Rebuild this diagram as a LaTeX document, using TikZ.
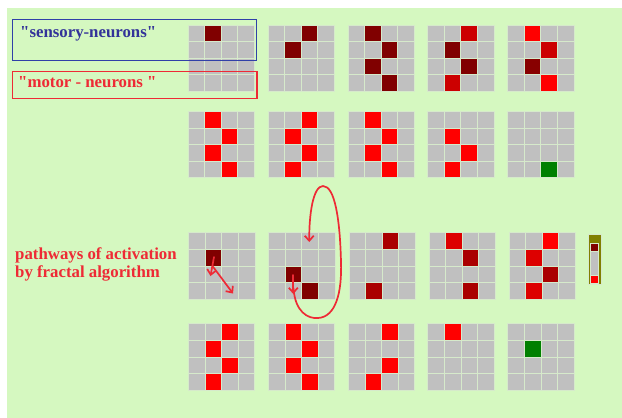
\documentclass[tikz,border=0pt]{standalone}
\usepackage{fontspec}
\setmainfont{Liberation Serif}
\usetikzlibrary{arrows.meta}
\definecolor{bg}{HTML}{D5F8C0}
\definecolor{cellgray}{HTML}{C0C0C0}
\definecolor{sep}{HTML}{D6EACB}
\definecolor{dk}{HTML}{800000}
\definecolor{dk2}{HTML}{880000}
\definecolor{md}{HTML}{AA0000}
\definecolor{mr}{HTML}{CC0000}
\definecolor{lr}{HTML}{DD0000}
\definecolor{rd}{HTML}{FF0000}
\definecolor{gn}{HTML}{008000}
\definecolor{olivebar}{HTML}{808000}
\definecolor{lblue}{HTML}{333399}
\definecolor{boxblue}{HTML}{3040A8}
\definecolor{lred}{HTML}{EE2A35}
\tikzset{
  cellbox/.style={draw=sep,line width=0.8pt},
  lbl/.style={anchor=base west,inner sep=0pt,font=\bfseries\fontsize{16.8}{18}\selectfont},
  annot/.style={draw=lred,line width=1.7pt,line cap=round,-{Straight Barb[length=5pt,width=9pt]}},
}
\newcommand\mygrid[3]{%
  \foreach \r in {0,...,3}{\foreach \c in {0,...,3}{%
    \filldraw[cellbox,fill=cellgray] ({#1+\c*16.6},{#2+\r*16.6}) rectangle ++(16.6,16.6);}}%
  \foreach \r/\c/\col in {#3}{%
    \filldraw[cellbox,fill=\col] ({#1+\c*16.6},{#2+\r*16.6}) rectangle ++(16.6,16.6);}%
}
\begin{document}
\begin{tikzpicture}[x=1pt,y=-1pt]
\useasboundingbox (0,0) rectangle (622,418);
\fill[bg] (6.5,8) rectangle (622,418);
% row 1
\mygrid{188}{25}{0/1/dk}
\mygrid{268}{25}{0/2/dk,1/1/dk}
\mygrid{348}{25}{0/1/dk,1/2/dk,2/1/dk,3/2/dk}
\mygrid{427.5}{25}{0/2/mr,1/1/dk,2/2/dk,3/1/mr}
\mygrid{507.5}{25}{0/1/rd,1/2/mr,2/1/dk2,3/2/rd}
% row 2
\mygrid{188}{111.3}{0/1/rd,1/2/rd,2/1/rd,3/2/rd}
\mygrid{268}{111.3}{0/2/rd,1/1/rd,2/2/rd,3/1/rd}
\mygrid{348}{111.3}{0/1/rd,1/2/rd,2/1/rd,3/2/rd}
\mygrid{427.5}{111.3}{1/1/rd,2/2/rd,3/1/rd}
\mygrid{507.5}{111.3}{3/2/gn}
% row 3
\mygrid{188.5}{232.7}{1/1/dk}
\mygrid{268.5}{232.7}{2/1/dk,3/2/dk}
\mygrid{349}{232.7}{0/2/md,3/1/md}
\mygrid{429}{232.7}{0/1/lr,1/2/md,3/2/md}
\mygrid{509}{232.7}{0/2/rd,1/1/lr,2/2/md,3/1/lr}
% row 4
\mygrid{188.3}{323.7}{0/2/rd,1/1/rd,2/2/rd,3/1/rd}
\mygrid{268.3}{323.7}{0/1/rd,1/2/rd,2/1/rd,3/2/rd}
\mygrid{348.3}{323.7}{0/2/rd,2/2/rd,3/1/rd}
\mygrid{427.7}{323.7}{0/1/rd}
\mygrid{507.7}{323.7}{1/1/gn}
% indicator bar
\filldraw[draw=sep,line width=0.8pt,fill=olivebar] (588.7,234) rectangle (601,284.7);
\filldraw[draw=sep,line width=0.6pt,fill=dk] (590.2,243.3) rectangle (598.5,251);
\filldraw[draw=sep,line width=0.6pt,fill=cellgray] (590.2,251) rectangle (598.5,275);
\filldraw[draw=sep,line width=0.6pt,fill=rd] (590.2,275) rectangle (598.5,283.3);
% label boxes
\draw[boxblue,line width=1.4pt] (12.3,19.3) rectangle (256.7,60.3);
\draw[lred,line width=1.4pt] (12.7,71.7) rectangle (257,98.3);
\node[lbl,text=lblue] (sens) at (20,37.3) {\textquotedbl sensory-neurons\textquotedbl};
\node[lbl,text=lred] (motor) at (18,87.3) {\textquotedbl motor - neurons \textquotedbl};
\node[lbl,text=lred] (path1) at (15,259) {pathways of activation};
\node[lbl,text=lred] (path2) at (15,277) {by fractal algorithm};
% annotations
\coordinate (a1s) at (214,257);
\coordinate (a1e) at (210.5,276);
\coordinate (a2s) at (212.5,266);
\coordinate (a2e) at (233,293.5);
\draw[annot] (a1s) -- (a1e);
\draw[annot] (a2s) -- (a2e);
\coordinate (b1s) at (293.3,275);
\coordinate (b1e) at (293.3,294);
\draw[annot] (b1s) -- (b1e);
\coordinate (cs) at (293.5,288);
\coordinate (cb) at (318,318);
\coordinate (cr) at (341,262);
\coordinate (ct) at (323,186);
\coordinate (ce) at (309.3,242);
\draw[annot] (cs) .. controls (295,312) and (308,319) .. (cb)
  .. controls (336,317) and (342,292) .. (cr)
  .. controls (340,220) and (335,186) .. (ct)
  .. controls (313,186) and (309,215) .. (ce);
\end{tikzpicture}
\end{document}
